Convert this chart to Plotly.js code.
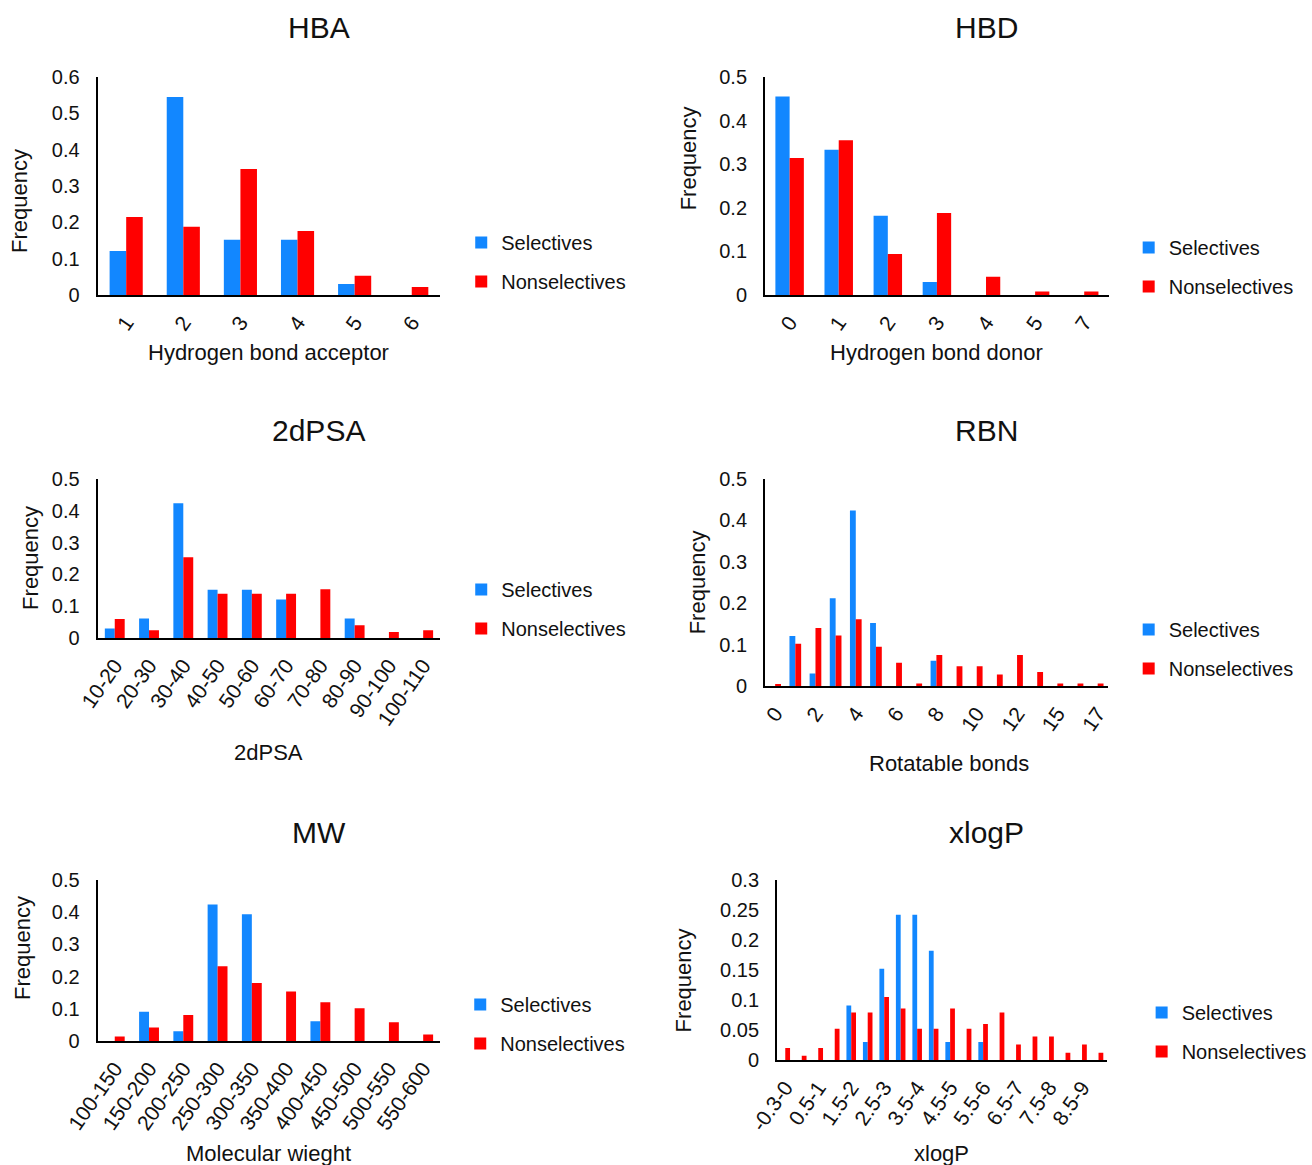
<!DOCTYPE html>
<html>
<head>
<meta charset="utf-8">
<script src="https://cdn.plot.ly/plotly-3.0.1.min.js"></script>
<style>html,body{margin:0;padding:0;background:#fff;}#chart{width:1312px;height:1165px;}</style>
</head>
<body>
<div id="chart"></div>
<script>
// ---------- DATA ----------
const hbaCats = ["1","2","3","4","5","6"];
const hbaSel = [0.121, 0.545, 0.152, 0.152, 0.030, 0];
const hbaNon = [0.215, 0.188, 0.347, 0.176, 0.053, 0.022];

const hbdCats = ["0","1","2","3","4","5","7"];
const hbdSel = [0.455, 0.333, 0.182, 0.030, 0, 0, 0];
const hbdNon = [0.314, 0.355, 0.094, 0.188, 0.042, 0.008, 0.008];

const psaCats = ["10-20","20-30","30-40","40-50","50-60","60-70","70-80","80-90","90-100","100-110"];
const psaSel = [0.030, 0.061, 0.424, 0.152, 0.152, 0.121, 0, 0.061, 0, 0];
const psaNon = [0.060, 0.024, 0.254, 0.139, 0.139, 0.139, 0.153, 0.040, 0.019, 0.024];

const rbnCats = ["0","1","2","3","4","5","6","7","8","9","10","11","12","13","15","16","17"];
const rbnTicks = ["0","2","4","6","8","10","12","15","17"];
const rbnSel = [0, 0.121, 0.030, 0.212, 0.424, 0.152, 0, 0, 0.061, 0, 0, 0, 0, 0, 0, 0, 0];
const rbnNon = [0.005, 0.102, 0.140, 0.122, 0.161, 0.095, 0.056, 0.006, 0.075, 0.048, 0.048, 0.028, 0.075, 0.034, 0.006, 0.006, 0.006];

const mwCats = ["100-150","150-200","200-250","250-300","300-350","350-400","400-450","450-500","500-550","550-600"];
const mwSel = [0, 0.091, 0.030, 0.424, 0.394, 0, 0.061, 0, 0, 0];
const mwNon = [0.014, 0.042, 0.081, 0.232, 0.180, 0.154, 0.120, 0.102, 0.058, 0.020];

const xlpCats = ["-0.3-0","0-0.5","0.5-1","1-1.5","1.5-2","2-2.5","2.5-3","3-3.5","3.5-4","4-4.5",
                 "4.5-5","5-5.5","5.5-6","6-6.5","6.5-7","7-7.5","7.5-8","8-8.5","8.5-9","9-9.5"];
const xlpTicks = ["-0.3-0","0.5-1","1.5-2","2.5-3","3.5-4","4.5-5","5.5-6","6.5-7","7.5-8","8.5-9"];
const xlpSel = [0, 0, 0, 0, 0.091, 0.030, 0.152, 0.242, 0.242, 0.182, 0.030, 0, 0.030, 0, 0, 0, 0, 0, 0, 0];
const xlpNon = [0.020, 0.007, 0.020, 0.052, 0.079, 0.079, 0.105, 0.086, 0.052, 0.052, 0.086, 0.052, 0.060, 0.079, 0.026, 0.039, 0.039, 0.012, 0.026, 0.012];

const seriesNames = ["Selectives", "Nonselectives"];
const colors = ["#1287ff", "#ff0000"];

// ---------- LAYOUT HELPERS ----------
const W = 1312, H = 1165;
const px = v => v / W;
const py = v => 1 - v / H;
const FONT = "Liberation Sans, Arial, sans-serif";
const TXT = "#111";

const panels = [
  {cats: hbaCats, sel: hbaSel, non: hbaNon, ticks: null, title: "HBA", xt: "Hydrogen bond acceptor", ymax: 0.6, dt: 0.1,
   x0: 98, x1: 442, y0: 77, y1: 295, tx: 320, ty: 28, xtx: 270, xty: 352, ytx: 20, yty: 201, lx: 463, ly: 262},
  {cats: hbdCats, sel: hbdSel, non: hbdNon, ticks: null, title: "HBD", xt: "Hydrogen bond donor", ymax: 0.5, dt: 0.1,
   x0: 768, x1: 1113, y0: 77, y1: 295, tx: 990, ty: 28, xtx: 940, xty: 352, ytx: 692, yty: 158, lx: 1133, ly: 267},
  {cats: psaCats, sel: psaSel, non: psaNon, ticks: null, title: "2dPSA", xt: "2dPSA", ymax: 0.5, dt: 0.1,
   x0: 98, x1: 442, y0: 479, y1: 638, tx: 320, ty: 430, xtx: 270, xty: 752, ytx: 30, yty: 558, lx: 463, ly: 609},
  {cats: rbnCats, sel: rbnSel, non: rbnNon, ticks: rbnTicks, title: "RBN", xt: "Rotatable bonds", ymax: 0.5, dt: 0.1,
   x0: 768, x1: 1112, y0: 479, y1: 686, tx: 990, ty: 430, xtx: 953, xty: 763, ytx: 700, yty: 582, lx: 1133, ly: 649},
  {cats: mwCats, sel: mwSel, non: mwNon, ticks: null, title: "MW", xt: "Molecular wieght", ymax: 0.5, dt: 0.1,
   x0: 98, x1: 442, y0: 880, y1: 1041, tx: 320, ty: 832, xtx: 270, xty: 1153, ytx: 22, yty: 948, lx: 462, ly: 1024},
  {cats: xlpCats, sel: xlpSel, non: xlpNon, ticks: xlpTicks, title: "xlogP", xt: "xlogP", ymax: 0.3, dt: 0.05,
   x0: 780, x1: 1111, y0: 880, y1: 1060, tx: 990, ty: 832, xtx: 945, xty: 1153, ytx: 686, yty: 980, lx: 1146, ly: 1032}
];

const data = [];
const layout = {
  width: W, height: H,
  margin: {l: 0, r: 0, t: 0, b: 0},
  paper_bgcolor: "#fff", plot_bgcolor: "#fff",
  barmode: "group", bargap: 0.42, bargroupgap: 0,
  font: {family: FONT, color: TXT, size: 20},
  showlegend: true,
  annotations: []
};

panels.forEach((p, i) => {
  const n = i === 0 ? "" : String(i + 1);
  const legName = "legend" + n;
  const xa = "x" + n, ya = "y" + n;
  [p.sel, p.non].forEach((vals, k) => {
    data.push({
      type: "bar", x: p.cats, y: vals, name: seriesNames[k],
      marker: {color: colors[k], line: {width: 0}},
      xaxis: xa, yaxis: ya, legend: legName,
      legendgroup: "g" + i + "_" + k, hoverinfo: "x+y+name"
    });
  });
  const xKey = "xaxis" + n, yKey = "yaxis" + n;
  layout[xKey] = {
    domain: [px(p.x0), px(p.x1)], anchor: ya, type: "category",
    categoryorder: "array", categoryarray: p.cats,
    range: [-0.5, p.cats.length - 0.5],
    showline: true, linecolor: "#000", linewidth: 2, showgrid: false, zeroline: false,
    ticks: "", tickangle: -55, tickfont: {size: 21, family: FONT, color: TXT},
    ticklabelstandoff: 5, fixedrange: true
  };
  if (p.ticks) { layout[xKey].tickmode = "array"; layout[xKey].tickvals = p.ticks; layout[xKey].ticktext = p.ticks; }
  layout[yKey] = {
    domain: [py(p.y1), py(p.y0)], anchor: xa,
    range: [0, p.ymax], dtick: p.dt, tick0: 0,
    showline: true, linecolor: "#000", linewidth: 2, showgrid: false, zeroline: false,
    ticks: "", tickfont: {size: 20, family: FONT, color: TXT}, ticklabelstandoff: 12, fixedrange: true
  };
  layout[legName] = {
    x: px(p.lx), xanchor: "left", y: py(p.ly), yanchor: "middle",
    orientation: "v", bgcolor: "rgba(0,0,0,0)", borderwidth: 0,
    font: {size: 20, family: FONT, color: TXT}, tracegroupgap: 10, traceorder: "grouped"
  };
  layout.annotations.push(
    {text: p.title, x: px(p.tx), y: py(p.ty), xref: "paper", yref: "paper", xanchor: "center", yanchor: "middle",
     showarrow: false, font: {size: 30, family: FONT, color: TXT}},
    {text: p.xt, x: px(p.xtx), y: py(p.xty), xref: "paper", yref: "paper", xanchor: "center", yanchor: "middle",
     showarrow: false, font: {size: 22, family: FONT, color: TXT}},
    {text: "Frequency", x: px(p.ytx), y: py(p.yty), xref: "paper", yref: "paper", xanchor: "center", yanchor: "middle",
     textangle: -90, showarrow: false, font: {size: 22, family: FONT, color: TXT}}
  );
});

Plotly.newPlot("chart", data, layout, {displayModeBar: false, staticPlot: true});
</script>
</body>
</html>
